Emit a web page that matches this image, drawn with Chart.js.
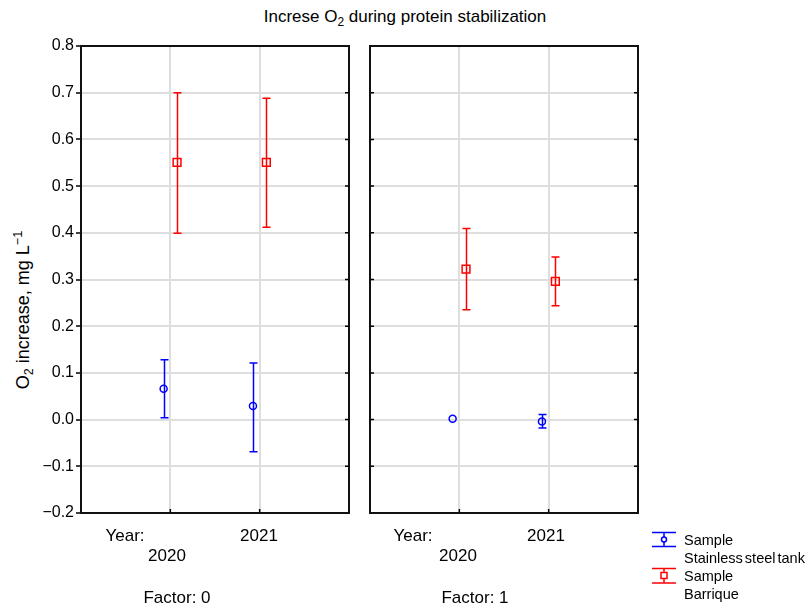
<!DOCTYPE html>
<html>
<head>
<meta charset="utf-8">
<script src="https://cdn.jsdelivr.net/npm/chart.js@4.4.1/dist/chart.umd.min.js"></script>
<style>
body { margin: 0; background: #fff; font-family: "Liberation Sans", Arial, sans-serif; color: #000; }
#wrap { position: relative; width: 811px; height: 609px; overflow: hidden; }
canvas { position: absolute; top: 0; }
.lbl { position: absolute; font-size: 17px; line-height: 17px; white-space: nowrap; transform: translateX(-50%); }
.leg { position: absolute; font-size: 14.5px; line-height: 15px; white-space: nowrap; word-spacing: -2px; }
#title { position: absolute; left: 405px; top: 8px; font-size: 17px; line-height: 17px; white-space: nowrap; transform: translateX(-50%); }
#ytitle { position: absolute; left: 23px; top: 310px; font-size: 18px; white-space: nowrap; transform: translate(-50%, -50%) rotate(-90deg); }
sub, sup { font-size: 70%; line-height: 0; }
svg { position: absolute; }
</style>
</head>
<body>
<div id="wrap">
  <div id="title">Increse O<sub>2</sub> during protein stabilization</div>
  <div id="ytitle">O<sub>2</sub> increase, mg L<sup>&minus;1</sup></div>
  <canvas id="left" width="360" height="609" style="left:0px"></canvas>
  <canvas id="right" width="290" height="609" style="left:360px"></canvas>

  <div class="lbl" style="left:125px; top:527px">Year:</div>
  <div class="lbl" style="left:259px; top:527px">2021</div>
  <div class="lbl" style="left:167px; top:547px">2020</div>
  <div class="lbl" style="left:177px; top:589px">Factor: 0</div>
  <div class="lbl" style="left:413px; top:527px">Year:</div>
  <div class="lbl" style="left:546px; top:527px">2021</div>
  <div class="lbl" style="left:458px; top:547px">2020</div>
  <div class="lbl" style="left:475px; top:589px">Factor: 1</div>

  <svg style="left:650px; top:530px" width="30" height="20">
    <g stroke="#0000ff" stroke-width="1.5" fill="none">
      <line x1="2" y1="2.5" x2="26" y2="2.5"/><line x1="2" y1="16.5" x2="26" y2="16.5"/>
      <line x1="14" y1="2.5" x2="14" y2="16.5"/><circle cx="14" cy="9.5" r="2.5" fill="#fff"/>
    </g>
  </svg>
  <div class="leg" style="left:684px; top:533px">Sample</div>
  <div class="leg" style="left:684px; top:551px">Stainless steel tank</div>
  <svg style="left:650px; top:566px" width="30" height="20">
    <g stroke="#ff0000" stroke-width="1.5" fill="none">
      <line x1="2" y1="2.5" x2="26" y2="2.5"/><line x1="2" y1="17" x2="26" y2="17"/>
      <line x1="14" y1="2.5" x2="14" y2="17"/><rect x="11" y="6.5" width="6" height="6" fill="#fff"/>
    </g>
  </svg>
  <div class="leg" style="left:684px; top:569px">Sample</div>
  <div class="leg" style="left:684px; top:587px">Barrique</div>
</div>
<script>
// categories
const years = ['2020', '2021'];
const yTicks = [-0.2, 0.8, 0.1]; // min, max, step

// Factor 0
const steel0Mean = [0.066, 0.029];
const steel0Low = [0.004, -0.069];
const steel0High = [0.128, 0.121];
const barr0Mean = [0.551, 0.551];
const barr0Low = [0.399, 0.412];
const barr0High = [0.700, 0.688];

// Factor 1
const steel1Mean = [0.002, -0.004];
const steel1Low = [0.002, -0.018];
const steel1High = [0.002, 0.011];
const barr1Mean = [0.322, 0.296];
const barr1Low = [0.235, 0.244];
const barr1High = [0.409, 0.348];

const BLUE = '#0000ff';
const RED = '#ff0000';

Chart.defaults.font.family = '"Liberation Sans", Arial, sans-serif';
Chart.defaults.color = '#000';

function pts(means, shift) {
    return means.map((v, i) => ({ x: i + 1 + shift, y: v }));
}

// error bars + frame + inner ticks
const panelPlugin = {
    id: 'panel',
    beforeDatasetsDraw(chart) {
        const ctx = chart.ctx;
        const x = chart.scales.x, y = chart.scales.y;
        chart.data.datasets.forEach(ds => {
            ctx.save();
            ctx.strokeStyle = ds.borderColor;
            ctx.lineWidth = 1.5;
            ds.data.forEach((p, i) => {
                const lo = ds.errLow[i], hi = ds.errHigh[i];
                if (lo === hi) return;
                const px = Math.round(x.getPixelForValue(p.x)) + 0.5;
                const y1 = y.getPixelForValue(lo), y2 = y.getPixelForValue(hi);
                ctx.beginPath();
                ctx.moveTo(px, y1); ctx.lineTo(px, y2);
                ctx.moveTo(px - 4, y1); ctx.lineTo(px + 4, y1);
                ctx.moveTo(px - 4, y2); ctx.lineTo(px + 4, y2);
                ctx.stroke();
            });
            ctx.restore();
        });
    },
    afterDraw(chart, args, opts) {
        const ctx = chart.ctx;
        const a = chart.chartArea;
        const y = chart.scales.y, x = chart.scales.x;
        ctx.save();
        ctx.strokeStyle = '#000';
        ctx.lineWidth = 1.5;
        ctx.beginPath();
        y.ticks.forEach(t => {
            const py = y.getPixelForValue(t.value);
            if (opts.innerLeft) { ctx.moveTo(a.left, py); ctx.lineTo(a.left + 4, py); }
            ctx.moveTo(a.right, py); ctx.lineTo(a.right - 4, py);
        });
        [1, 2].forEach(v => {
            const px = x.getPixelForValue(v);
            ctx.moveTo(px, a.bottom); ctx.lineTo(px, a.bottom - 4);
        });
        ctx.stroke();
        ctx.lineWidth = 2;
        ctx.strokeStyle = '#111';
        ctx.strokeRect(a.left, a.top, a.right - a.left, a.bottom - a.top);
        ctx.restore();
    }
};

function makePanel(id, steelMean, steelLow, steelHigh, barrMean, barrLow, barrHigh, withLabels, pad) {
    new Chart(document.getElementById(id), {
        type: 'scatter',
        data: {
            datasets: [{
                label: 'Sample Stainless steel tank',
                data: pts(steelMean, -0.075),
                errLow: steelLow,
                errHigh: steelHigh,
                borderColor: BLUE,
                backgroundColor: 'rgba(0,0,0,0)',
                pointStyle: 'circle',
                pointRadius: 3.5,
                borderWidth: 1.5
            }, {
                label: 'Sample Barrique',
                data: pts(barrMean, 0.075),
                errLow: barrLow,
                errHigh: barrHigh,
                borderColor: RED,
                backgroundColor: 'rgba(0,0,0,0)',
                pointStyle: 'rect',
                pointRadius: 5.5,
                borderWidth: 1.5
            }]
        },
        options: {
            responsive: false,
            animation: false,
            events: [],
            layout: { padding: pad },
            plugins: {
                legend: { display: false },
                tooltip: { enabled: false },
                panel: { innerLeft: !withLabels }
            },
            scales: {
                x: {
                    type: 'linear',
                    min: 0,
                    max: years.length + 1,
                    ticks: { display: false, stepSize: 1 },
                    border: { display: false },
                    grid: {
                        drawTicks: false,
                        lineWidth: 2,
                        color: c => (c.tick.value > 0 && c.tick.value < years.length + 1) ? '#dedede' : 'rgba(0,0,0,0)'
                    },
                    afterFit: s => { s.height = 0; }
                },
                y: {
                    min: yTicks[0],
                    max: yTicks[1],
                    ticks: {
                        display: withLabels,
                        stepSize: yTicks[2],
                        padding: 2,
                        font: { size: 16 },
                        callback: v => (Math.abs(v) < 1e-9 ? 0 : v).toFixed(1).replace('-', '\u2212')
                    },
                    border: { display: false },
                    grid: {
                        lineWidth: 2,
                        color: '#dedede',
                        drawTicks: withLabels,
                        tickLength: 5,
                        tickColor: '#000',
                        tickWidth: 1.5
                    },
                    afterFit: s => { s.width = withLabels ? 81 : 0; }
                }
            }
        },
        plugins: [panelPlugin]
    });
}

makePanel('left', steel0Mean, steel0Low, steel0High, barr0Mean, barr0Low, barr0High, true,
    { left: 0, right: 11, top: 46, bottom: 96 });
makePanel('right', steel1Mean, steel1Low, steel1High, barr1Mean, barr1Low, barr1High, false,
    { left: 10, right: 12, top: 46, bottom: 96 });
</script>
</body>
</html>
